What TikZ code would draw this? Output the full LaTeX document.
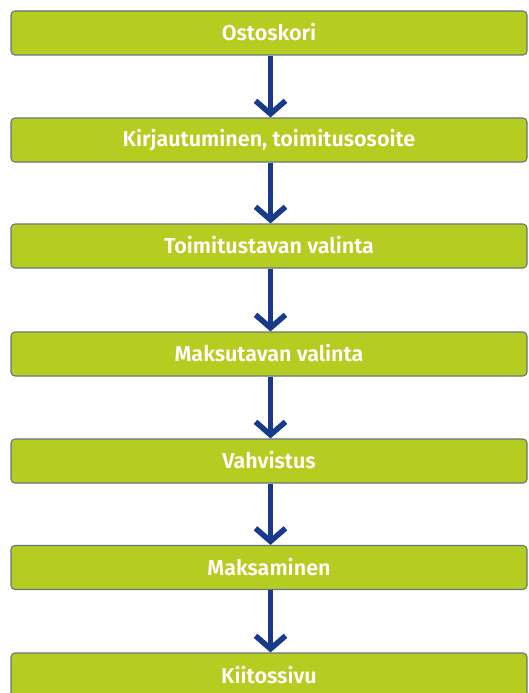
\documentclass[tikz,border=0pt]{standalone}
\usepackage{fontspec}
\setmainfont{Fira Sans}[BoldFont={Fira Sans SemiBold}]
\usetikzlibrary{arrows.meta}
\definecolor{boxgreen}{RGB}{181,204,32}
\definecolor{boxedge}{RGB}{100,118,125}
\definecolor{arrowblue}{RGB}{24,58,140}
\tikzset{
  stepbox/.style={draw=boxedge, line width=1.1pt, fill=boxgreen, rounded corners=4pt,
    minimum width=516pt, minimum height=44pt, inner sep=0pt,
    text=white, font=\fontsize{21.5}{24}\selectfont\bfseries},
  flow/.style={draw=arrowblue, line width=5pt,
    -{Straight Barb[length=13pt,width=30pt,line width=5.5pt]}}
}
\begin{document}
\begin{tikzpicture}[x=1pt,y=-1pt]
\useasboundingbox (0,0) rectangle (528,693);
\clip (0,0) rectangle (528,693);
\node[stepbox] (b1) at (269,33) {\raisebox{2pt}{Ostoskori}};
\node[stepbox] (b2) at (269,140) {\raisebox{2pt}{Kirjautuminen, toimitusosoite}};
\node[stepbox] (b3) at (269,246) {\raisebox{2pt}{Toimitustavan valinta}};
\node[stepbox] (b4) at (269,354) {\raisebox{2pt}{Maksutavan valinta}};
\node[stepbox] (b5) at (269,461) {\raisebox{2pt}{Vahvistus}};
\node[stepbox] (b6) at (269,567.5) {\raisebox{2pt}{Maksaminen}};
\node[stepbox] (b7) at (269,675) {\raisebox{-1pt}{Kiitossivu}};
\foreach \a/\b in {b1/b2,b2/b3,b3/b4,b4/b5,b5/b6,b6/b7}
  \draw[flow] ([xshift=1.5pt]\a.south) -- ([xshift=1.5pt]\b.north);
\end{tikzpicture}
\end{document}
